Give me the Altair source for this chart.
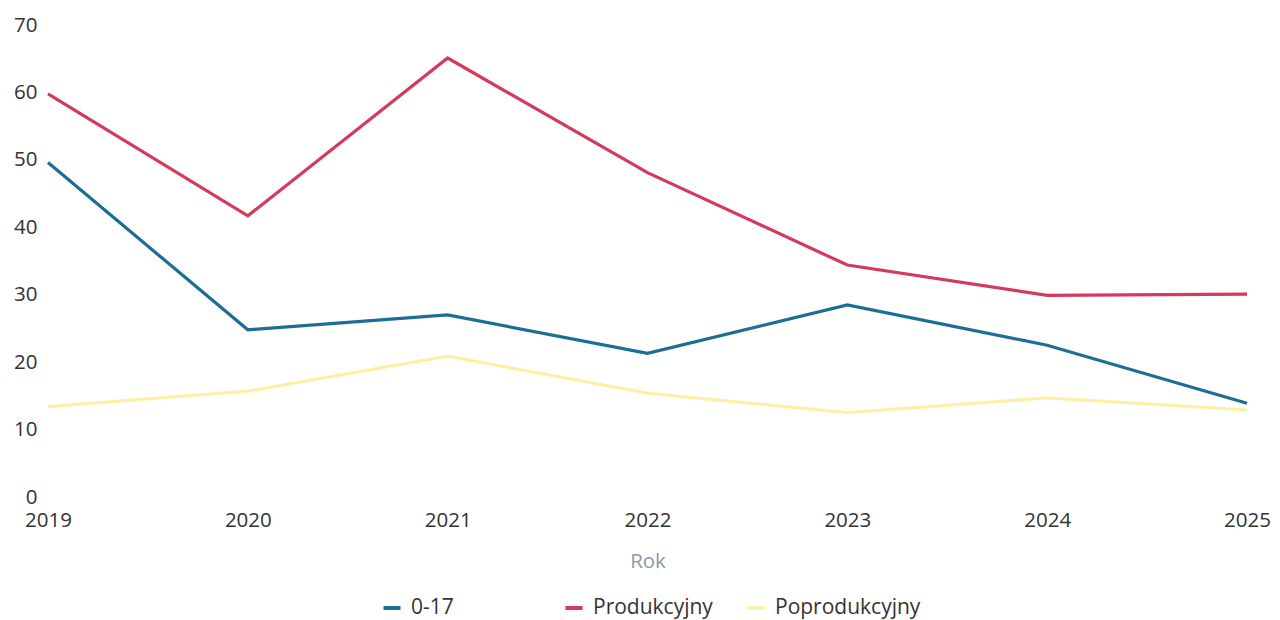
import altair as alt
import pandas as pd

years = ["2019", "2020", "2021", "2022", "2023", "2024", "2025"]
s_017 = [49.6, 24.8, 27.0, 21.3, 28.5, 22.5, 13.9]
s_prod = [59.8, 41.7, 65.1, 48.1, 34.4, 29.9, 30.1]
s_poprod = [13.4, 15.7, 20.9, 15.4, 12.5, 14.7, 12.9]
series = ["0-17", "Produkcyjny", "Poprodukcyjny"]
colors = ["#1d6e94", "#d53a5b", "#fbf1a6"]

rows = []
for name, vals in zip(series, [s_017, s_prod, s_poprod]):
    for y, v in zip(years, vals):
        rows.append({"Rok": y, "value": v, "series": name})
df = pd.DataFrame(rows)

FONT = "Open Sans"

chart = alt.Chart(df).mark_line(strokeWidth=3.2).encode(
    x=alt.X("Rok:O", scale=alt.Scale(type="point", padding=0),
            axis=alt.Axis(title="Rok", labelAngle=0, ticks=False, domain=False, grid=False,
                          labelPadding=13, labelFontSize=20.5, labelFont=FONT, labelColor="#333333",
                          titleFont=FONT, titleFontSize=20.5, titleFontWeight="normal",
                          titleColor="#8a99a8", titlePadding=21)),
    y=alt.Y("value:Q", scale=alt.Scale(domain=[0, 70], nice=False),
            axis=alt.Axis(title=None, values=[0, 10, 20, 30, 40, 50, 60, 70], ticks=False,
                          domain=False, grid=False, labelPadding=11, labelFontSize=20.5,
                          labelFont=FONT, labelColor="#333333")),
    color=alt.Color("series:N", scale=alt.Scale(domain=series, range=colors),
                    legend=alt.Legend(title=None, orient="none", legendX=333, legendY=572,
                                      direction="horizontal", columns=3, gridAlign="all",
                                      columnPadding=0, symbolType="stroke", symbolStrokeWidth=4,
                                      symbolSize=290, labelFont=FONT, labelFontSize=21,
                                      labelColor="#333333", labelOffset=8, labelLimit=400)),
    detail="series:N",
).properties(
    width=1199, height=472,
    autosize=alt.AutoSizeParams(type="none"),
    padding={"left": 40, "top": 17, "right": 25, "bottom": 128},
).configure_view(stroke=None)

chart.save("out.html", embed_options={"renderer": "svg", "actions": False})
